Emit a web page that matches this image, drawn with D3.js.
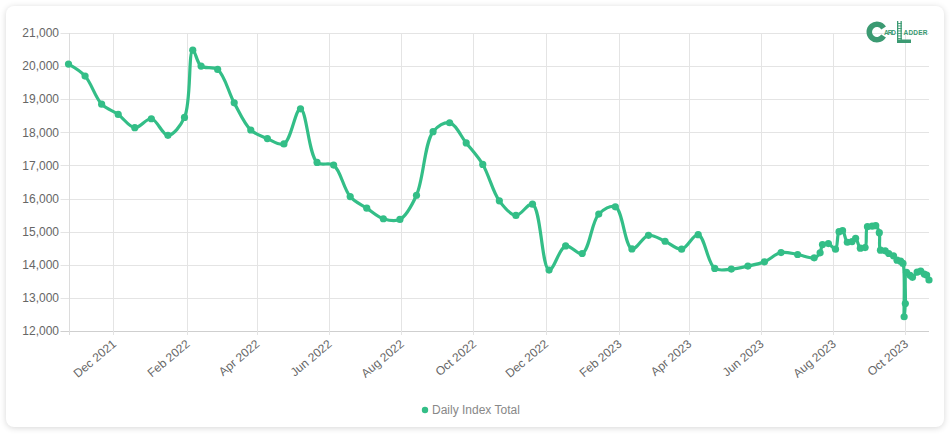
<!DOCTYPE html>
<html>
<head>
<meta charset="utf-8">
<script src="https://cdn.jsdelivr.net/npm/d3@7"></script>
<style>
  body { margin: 0; background: #fff; font-family: "Liberation Sans", Arial, sans-serif; }
  .card { position: absolute; left: 6px; top: 6px; width: 938px; height: 421px; background: #fff;
          border-radius: 8px; box-shadow: 0 1px 6px rgba(0,0,0,0.16); }
  svg { position: absolute; left: 0; top: 0; }
</style>
</head>
<body>
<div class="card"></div>
<svg id="chart" width="952" height="437"></svg>
<script>
// index dates (mostly every two weeks, daily-ish near the end)
var dates = [
  "2021-10-24", "2021-11-07", "2021-11-21", "2021-12-05", "2021-12-19", "2022-01-02",
  "2022-01-16", "2022-01-30", "2022-02-06", "2022-02-13", "2022-02-27", "2022-03-13",
  "2022-03-27", "2022-04-10", "2022-04-24", "2022-05-08", "2022-05-22", "2022-06-05",
  "2022-06-19", "2022-07-03", "2022-07-17", "2022-07-31", "2022-08-14", "2022-08-28",
  "2022-09-11", "2022-09-25", "2022-10-09", "2022-10-23", "2022-11-06", "2022-11-20",
  "2022-12-04", "2022-12-18", "2023-01-01", "2023-01-15", "2023-01-29", "2023-02-12",
  "2023-02-26", "2023-03-12", "2023-03-26", "2023-04-09", "2023-04-23", "2023-05-07",
  "2023-05-21", "2023-06-04", "2023-06-18", "2023-07-02", "2023-07-16", "2023-07-21",
  "2023-07-23", "2023-07-28", "2023-08-03", "2023-08-06", "2023-08-09", "2023-08-13",
  "2023-08-17", "2023-08-20", "2023-08-24", "2023-08-28", "2023-08-30", "2023-09-03",
  "2023-09-06", "2023-09-09", "2023-09-10", "2023-09-14", "2023-09-17", "2023-09-21",
  "2023-09-24", "2023-09-27", "2023-09-29", "2023-09-30", "2023-10-01", "2023-10-02",
  "2023-10-05", "2023-10-07", "2023-10-11", "2023-10-14", "2023-10-17", "2023-10-19",
  "2023-10-21"
];

var values = [
  20060, 19700, 18850, 18540, 18140, 18410,
  17910, 18450, 20480, 20000, 19900, 18890,
  18070, 17810, 17650, 18710, 17090, 17010,
  16060, 15710, 15390, 15370, 16100, 18020,
  18290, 17680, 17030, 15930, 15490, 15830,
  13840, 14570, 14340, 15530, 15750, 14480,
  14890, 14710, 14470, 14910, 13890, 13870,
  13960, 14090, 14370, 14310, 14210, 14360,
  14610, 14640, 14470, 15000, 15030, 14680,
  14700, 14800, 14500, 14520, 15150, 15170,
  15180, 14970, 14440, 14420, 14340, 14270,
  14140, 14110, 14040, 12430, 12830, 13770,
  13680, 13620, 13780, 13810, 13720, 13690,
  13540
];

var tickDates = [
  "2021-12-01", "2022-02-01", "2022-04-01", "2022-06-01", "2022-08-01", "2022-10-01",
  "2022-12-01", "2023-02-01", "2023-04-01", "2023-06-01", "2023-08-01", "2023-10-01"
];
var yTicks = [12000, 13000, 14000, 15000, 16000, 17000, 18000, 19000, 20000, 21000];
var seriesName = "Daily Index Total";

var green = "#33be87";
var parse = d3.timeParse("%Y-%m-%d");
var data = dates.map(function(d, i) { return {date: parse(d), value: values[i]}; });

var svg = d3.select("#chart"),
    plotL = 68.5, plotR = 929, plotT = 33, plotB = 331;

var x = d3.scaleTime()
    .domain(d3.extent(data, function(d) { return d.date; }))
    .range([plotL, plotR]);

var y = d3.scaleLinear()
    .domain([12000, 21000])
    .range([plotB, plotT]);

var fmt = d3.format(",");
var fmtMonth = d3.timeFormat("%b %Y");

// horizontal grid + y ticks
svg.append("g")
  .selectAll("line")
  .data(yTicks)
  .enter().append("line")
    .attr("x1", plotL - 8).attr("x2", plotR)
    .attr("y1", function(d) { return Math.round(y(d)) + 0.5; })
    .attr("y2", function(d) { return Math.round(y(d)) + 0.5; })
    .attr("stroke", function(d) { return d === 12000 ? "#cfcfcf" : "#e4e4e4"; });

// vertical grid
svg.append("g")
  .selectAll("line")
  .data(tickDates)
  .enter().append("line")
    .attr("x1", function(d) { return Math.round(x(parse(d))) + 0.5; })
    .attr("x2", function(d) { return Math.round(x(parse(d))) + 0.5; })
    .attr("y1", plotT).attr("y2", plotB + 4)
    .attr("stroke", "#e4e4e4");

// y axis line
svg.append("line")
    .attr("x1", Math.round(plotL) + 0.5).attr("x2", Math.round(plotL) + 0.5)
    .attr("y1", plotT).attr("y2", plotB + 4)
    .attr("stroke", "#dcdcdc");

svg.append("g")
  .selectAll("text")
  .data(yTicks)
  .enter().append("text")
    .attr("x", 59)
    .attr("y", function(d) { return y(d); })
    .attr("dy", "0.35em")
    .attr("text-anchor", "end")
    .attr("font-size", 12)
    .attr("fill", "#666")
    .text(function(d) { return fmt(d); });

svg.append("g")
  .selectAll("text")
  .data(tickDates)
  .enter().append("text")
    .attr("transform", function(d) { return "translate(" + (x(parse(d)) + 1) + "," + (plotB + 11) + ") rotate(-40)"; })
    .attr("dy", "0.35em")
    .attr("text-anchor", "end")
    .attr("font-size", 12)
    .attr("fill", "#666")
    .text(function(d) { return fmtMonth(parse(d)); });

// the line
var line = d3.line()
    .x(function(d) { return x(d.date); })
    .y(function(d) { return y(d.value); })
    .curve(d3.curveCatmullRom.alpha(0.5));

svg.append("path")
    .datum(data)
    .attr("d", line)
    .attr("fill", "none")
    .attr("stroke", green)
    .attr("stroke-width", 3.2)
    .attr("stroke-linejoin", "round");

svg.append("g")
  .selectAll("circle")
  .data(data)
  .enter().append("circle")
    .attr("cx", function(d) { return x(d.date); })
    .attr("cy", function(d) { return y(d.value); })
    .attr("r", 3.6)
    .attr("fill", green);

// legend
var legend = svg.append("g").attr("transform", "translate(425,410)");
legend.append("circle").attr("r", 3.2).attr("fill", green);
legend.append("text")
    .attr("x", 7).attr("dy", "0.35em")
    .attr("font-size", 12)
    .attr("fill", "#888")
    .text(seriesName);

// logo (top right)
var logoColor = "#3b9a72";
var logo = svg.append("g");
logo.append("path")
    .attr("transform", "translate(877,32)")
    .attr("d", d3.arc().innerRadius(5).outerRadius(10.5)
      .startAngle(Math.PI / 2 + 0.55).endAngle(Math.PI * 2.5 - 0.55)())
    .attr("fill", logoColor);
logo.append("text")
    .attr("x", 884).attr("y", 35)
    .attr("font-size", 6.5).attr("font-weight", "bold")
    .attr("textLength", 12)
    .attr("fill", logoColor)
    .text("ARD");
logo.append("rect").attr("x", 897).attr("y", 21).attr("width", 1.3).attr("height", 22).attr("fill", logoColor);
logo.append("rect").attr("x", 900.5).attr("y", 21).attr("width", 1.3).attr("height", 22).attr("fill", logoColor);
d3.range(23, 41, 2.5).forEach(function(r) {
  logo.append("rect").attr("x", 897).attr("y", r).attr("width", 4.8).attr("height", 0.9).attr("fill", logoColor);
});
logo.append("rect").attr("x", 897).attr("y", 39.5).attr("width", 14).attr("height", 3.5).attr("fill", logoColor);
logo.append("text")
    .attr("x", 903.5).attr("y", 35)
    .attr("font-size", 6.5).attr("font-weight", "bold")
    .attr("textLength", 24)
    .attr("fill", logoColor)
    .text("ADDER");
</script>
</body>
</html>
